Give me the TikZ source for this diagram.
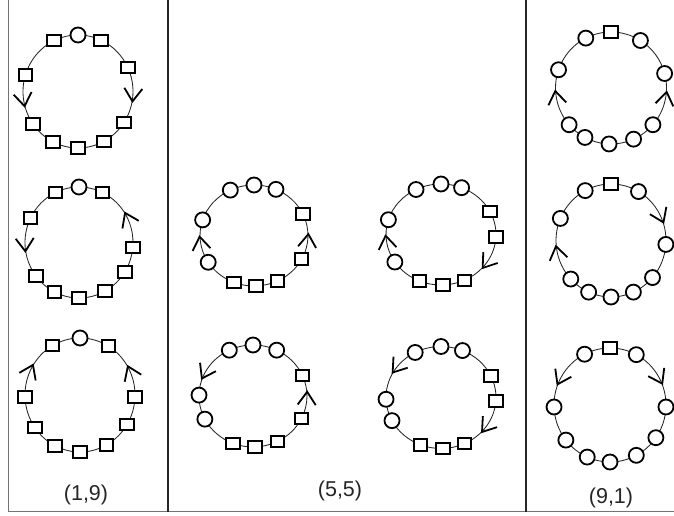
\documentclass[tikz,border=0pt]{standalone}
\usepackage{fontspec}
\setmainfont{Liberation Sans}
\usetikzlibrary{backgrounds,decorations.markings}
\tikzset{
  sq/.style={draw=black, rectangle, fill=white, minimum width=13.5pt, minimum height=11.5pt, inner sep=0pt, line width=2pt},
  cir/.style={draw=black, circle, fill=white, minimum size=15pt, inner sep=0pt, line width=1.8pt},
  ringline/.style={line width=0.85pt, draw=black!85},
  chev/.style={line width=1.8pt, draw=black, line cap=butt, line join=miter},
  lab/.style={font=\fontsize{21.5}{25}\selectfont, text=black!85},
  frame/.style={line width=1pt, draw=black!55},
  divider/.style={line width=2pt, draw=black!85}
}
% #1 name, #2 cx, #3 cy, #4 rx, #5 ry, #6 angle of last node minus 360, #7 list angle/shape/dir/pos
\newcommand\ringdraw[7]{%
  \foreach \ang/\sh/\dr/\ps [count=\i] in {#7} {
    \ifnum\sh=1
      \node[sq] (#1-\i) at ({#2+#4*cos(\ang)},{#3+#5*sin(\ang)}) {};
    \else
      \node[cir] (#1-\i) at ({#2+#4*cos(\ang)},{#3+#5*sin(\ang)}) {};
    \fi
  }
  \begin{pgfonlayer}{background}
  \foreach \ang/\sh/\dr/\ps [count=\i, remember=\ang as \pang (initially #6), remember=\i as \j (initially 10)] in {#7} {
    \ifnum\dr=0
      \draw[ringline] (#1-\j.center) arc[start angle=\pang, end angle=\ang, x radius=#4, y radius=#5];
    \else\ifnum\dr=1
      \draw[ringline, postaction={decorate, decoration={markings, mark=at position \ps with {\draw[chev] (-7pt,9pt) -- (6pt,0pt) -- (-7pt,-9pt);}}}] (#1-\j.center) arc[start angle=\pang, end angle=\ang, x radius=#4, y radius=#5];
    \else
      \draw[ringline, postaction={decorate, decoration={markings, mark=at position \ps with {\draw[chev] (7pt,9pt) -- (-6pt,0pt) -- (7pt,-9pt);}}}] (#1-\j.center) arc[start angle=\pang, end angle=\ang, x radius=#4, y radius=#5];
    \fi\fi
  }
  \end{pgfonlayer}
}
\begin{document}
\begin{tikzpicture}[x=1pt,y=1pt]
\useasboundingbox (0,0) rectangle (674,516);
% frame
\coordinate (tl) at (8.3,516);
\coordinate (bl) at (8.3,4.3);
\coordinate (br) at (674,4.3);
\coordinate (d1t) at (168.3,516);
\coordinate (d1b) at (168.3,4.3);
\coordinate (d2t) at (525.7,516);
\coordinate (d2b) at (525.7,4.3);
\draw[frame] (tl) -- (bl) -- (br);
\draw[divider] (d1t) -- (d1b);
\draw[divider] (d2t) -- (d2b);
% left panel
\ringdraw{a}{78}{424.5}{55}{56.5}{-33}{25/1/2/0.5, 65/1/0/0, 90/0/0/0, 116/1/0/0, 163/1/0/0, 215/1/1/0.5, 243/1/0/0, 270/1/0/0, 298/1/0/0, 327/1/0/0}
\ringdraw{b}{79}{273.5}{54}{55.5}{-32}{-5/1/0/0, 64/1/1/0.45, 90/0/0/0, 116/1/0/0, 154/1/0/0, 217/1/1/0.46, 243/1/0/0, 270/1/0/0, 299/1/0/0, 328/1/0/0}
\ringdraw{c}{80}{121}{55}{57}{-31}{-2/1/0/0, 59/1/1/0.43, 90/0/0/0, 120/1/0/0, 182/1/2/0.55, 215/1/0/0, 243/1/0/0, 270/1/0/0, 299/1/0/0, 329/1/0/0}
% middle panel
\ringdraw{d}{254}{280.5}{54}{50.5}{-28}{25/1/1/0.43, 66/0/0/0, 90/0/0/0, 116/0/0/0, 162/0/0/0, 212/0/2/0.52, 248/1/0/0, 272/1/0/0, 296/1/0/0, 332/1/0/0}
\ringdraw{e}{441}{281.5}{55}{50.5}{-65}{-3/1/2/0.5, 27/1/0/0, 68/0/0/0, 90/0/0/0, 117/0/0/0, 163/0/0/0, 213/0/2/0.5, 247/1/0/0, 272/1/0/0, 295/1/0/0}
\ringdraw{f}{253}{120}{54}{51}{-26}{24/1/1/0.48, 64/0/0/0, 90/0/0/0, 116/0/0/0, 179/0/1/0.6, 207/0/0/0, 248/1/0/0, 272/1/0/0, 297/1/0/0, 334/1/0/0}
\ringdraw{g}{441}{118.5}{55}{51}{-65}{-4/1/2/0.49, 25/1/0/0, 67/0/0/0, 90/0/0/0, 118/0/0/0, 182/0/1/0.42, 207/0/0/0, 248/1/0/0, 272/1/0/0, 295/1/0/0}
% right panel
\ringdraw{h}{611}{428}{55.5}{56}{-41}{15/0/1/0.55, 58/0/0/0, 90/1/0/0, 117/0/0/0, 161/0/0/0, 221/0/2/0.47, 242/0/0/0, 268/0/0/0, 294/0/0/0, 319/0/0/0}
\ringdraw{i}{611}{275.5}{55}{56.5}{-41}{-4/0/0/0, 60/0/2/0.45, 90/1/0/0, 118/0/0/0, 157/0/0/0, 223/0/2/0.53, 246/0/0/0, 270/0/0/0, 294/0/0/0, 319/0/0/0}
\ringdraw{j}{610}{111}{56}{57}{-35}{-2/0/0/0, 62/0/2/0.47, 90/1/0/0, 117/0/0/0, 182/0/1/0.55, 218/0/0/0, 246/0/0/0, 270/0/0/0, 298/0/0/0, 325/0/0/0}
% labels
\node[lab] (l1) at (86,21) {(1,9)};
\node[lab] (l2) at (340,25) {(5,5)};
\node[lab] (l3) at (611,18) {(9,1)};
\end{tikzpicture}
\end{document}
